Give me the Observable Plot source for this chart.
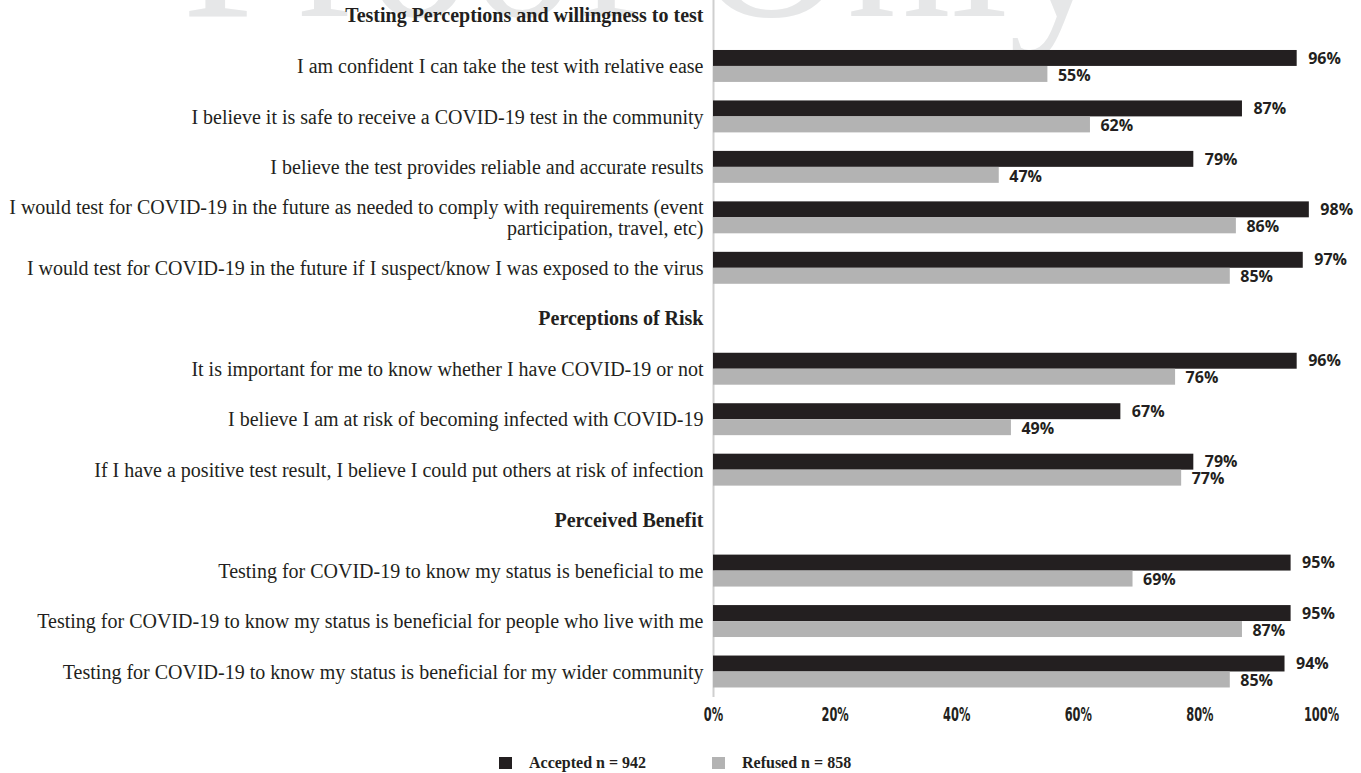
<!DOCTYPE html>
<html>
<head>
<meta charset="utf-8">
<script src="https://cdn.jsdelivr.net/npm/d3@7"></script>
<script src="https://cdn.jsdelivr.net/npm/@observablehq/plot@0.6"></script>
<style>
  html, body { margin: 0; padding: 0; background: #fff; }
  #wrap { position: relative; width: 1361px; height: 773px; overflow: hidden; }
  #wm { position: absolute; left: 0; top: 0; }
  #chart { position: absolute; left: 0; top: 0; }
  #chart svg { background: transparent; }
  #legend { position: absolute; left: 0; top: 740px; width: 1361px; height: 33px;
    font-family: "Liberation Serif", "Times New Roman", serif; font-weight: bold; font-size: 16px; color: #231f20; }
  .sw { position: absolute; width: 13px; height: 12px; top: 17px; }
  .lt { position: absolute; top: 13px; line-height: 20px; }
</style>
</head>
<body>
<div id="wrap">
  <svg id="wm" width="1361" height="80"><text x="182" y="16" font-family="Liberation Serif, Times New Roman, serif" font-size="208" fill="#e6e7e8">Proof Only</text></svg>
  <div id="chart"></div>
  <div id="legend"></div>
</div>
<script>
// ---- data ----
const sections = [
  "Testing Perceptions and willingness to test",
  "Perceptions of Risk",
  "Perceived Benefit"
];
const items = [
  "I am confident I can take the test with relative ease",
  "I believe it is safe to receive a COVID-19 test in the community",
  "I believe the test provides reliable and accurate results",
  "I would test for COVID-19 in the future as needed to comply with requirements (event\nparticipation, travel, etc)",
  "I would test for COVID-19 in the future if I suspect/know I was exposed to the virus",
  "It is important for me to know whether I have COVID-19 or not",
  "I believe I am at risk of becoming infected with COVID-19",
  "If I have a positive test result, I believe I could put others at risk of infection",
  "Testing for COVID-19 to know my status is beneficial to me",
  "Testing for COVID-19 to know my status is beneficial for people who live with me",
  "Testing for COVID-19 to know my status is beneficial for my wider community"
];
const itemSection = [0, 0, 0, 0, 0, 1, 1, 1, 2, 2, 2];
const accepted = [96, 87, 79, 98, 97, 96, 67, 79, 95, 95, 94];
const refused  = [55, 62, 47, 86, 85, 76, 49, 77, 69, 87, 85];
const xTicks = [0, 20, 40, 60, 80, 100];
const seriesNames = ["Accepted n = 942", "Refused n = 858"];
const seriesColors = ["#231f20", "#b3b3b3"];

// ---- build rows ----
const rowOrder = [];
const headerRows = [];
sections.forEach((s, si) => {
  rowOrder.push(s);
  headerRows.push({label: s});
  items.forEach((it, i) => { if (itemSection[i] === si) rowOrder.push(it); });
});
const itemRows = items.map((label, i) => ({label, accepted: accepted[i], refused: refused[i]}));

const W = 1361, H = 740;
const chart = Plot.plot({
  width: W,
  height: H,
  marginLeft: 713,
  marginRight: 40,
  marginTop: 0,
  marginBottom: 43,
  style: {background: "transparent"},
  x: {domain: [0, 100], axis: null},
  y: {type: "band", domain: rowOrder, range: [-19, 706], round: false,
      paddingInner: 0.367, paddingOuter: 0.367, axis: null},
  marks: [
    Plot.ruleX([0], {stroke: "#cfcfcf", strokeWidth: 2}),
    Plot.barX(itemRows, {x: "accepted", y: "label", fill: seriesColors[0], insetBottom: 16}),
    Plot.barX(itemRows, {x: "refused", y: "label", fill: seriesColors[1], insetTop: 16}),
    Plot.text(itemRows, {x: "accepted", y: "label", text: d => d.accepted + "%", dy: -8, dx: 11,
      textAnchor: "start", fontFamily: "Open Sans", fontWeight: "bold", fontSize: 16, fill: "#231f20"}),
    Plot.text(itemRows, {x: "refused", y: "label", text: d => d.refused + "%", dy: 9, dx: 10,
      textAnchor: "start", fontFamily: "Open Sans", fontWeight: "bold", fontSize: 16, fill: "#231f20"}),
    Plot.text(itemRows, {x: 0, y: "label", text: "label", textAnchor: "end", dx: -10, lineHeight: 1.05,
      fontFamily: "Liberation Serif", fontSize: 20, fill: "#231f20"}),
    Plot.text(headerRows, {x: 0, y: "label", text: "label", textAnchor: "end", dx: -10,
      fontFamily: "Liberation Serif", fontWeight: "bold", fontSize: 20, fill: "#231f20"}),
    Plot.axisX({ticks: xTicks, tickFormat: d => d + "%", tickSize: 0, tickPadding: 10, label: null,
      fontFamily: "DejaVu Sans", fontWeight: "bold", fontSize: 19, fill: "#231f20"})
  ]
});
document.getElementById("chart").appendChild(chart);

// condense the tick labels horizontally (narrow display face in the reference)
chart.querySelectorAll('g[aria-label="x-axis tick label"] text').forEach(t => {
  const tr = t.getAttribute("transform") || "";
  t.setAttribute("transform", tr + " scale(0.6,1)");
});

// ---- legend ----
const legend = document.getElementById("legend");
const legendX = [499, 712];
seriesNames.forEach((name, i) => {
  const sw = document.createElement("div");
  sw.className = "sw";
  sw.style.left = legendX[i] + "px";
  sw.style.background = seriesColors[i];
  legend.appendChild(sw);
  const t = document.createElement("div");
  t.className = "lt";
  t.style.left = (legendX[i] + 30) + "px";
  t.textContent = name;
  legend.appendChild(t);
});
</script>
</body>
</html>
